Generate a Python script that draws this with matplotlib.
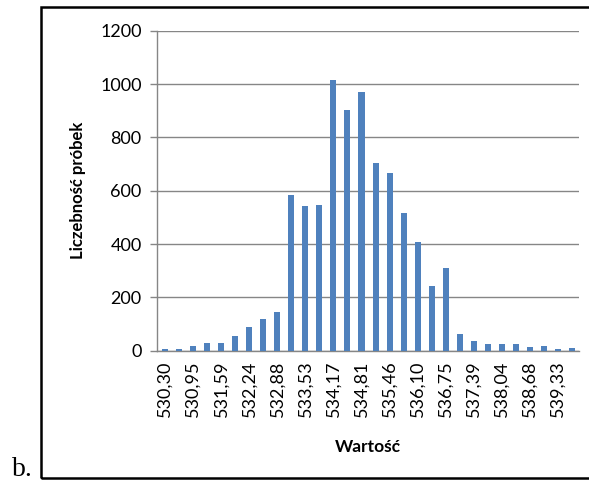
import matplotlib.pyplot as plt
from matplotlib.patches import Rectangle

# liczebnosc probek w kolejnych przedzialach
counts = [8, 5, 16, 30, 30, 56, 89, 120, 146, 584,
          541, 547, 1014, 904, 970, 704, 665, 516, 406, 244,
          311, 62, 36, 25, 25, 25, 14, 16, 8, 10]
tick_labels = ["530,30", "530,95", "531,59", "532,24", "532,88", "533,53",
               "534,17", "534,81", "535,46", "536,10", "536,75", "537,39",
               "538,04", "538,68", "539,33"]
y_ticks = [0, 200, 400, 600, 800, 1000, 1200]

plt.rcParams['font.family'] = ['Lato', 'DejaVu Sans']

fig = plt.figure(figsize=(5.89, 4.82), dpi=100)
ax = fig.add_axes([0.2666, 0.2724, 0.7165, 0.6639])

x = list(range(len(counts)))
ax.bar(x, counts, width=0.43, color='#4F81BD', zorder=3)

ax.set_xlim(-0.57, len(counts) - 0.5)
ax.set_ylim(0, 1200)
ax.set_yticks(y_ticks)
ax.set_yticklabels([str(v) for v in y_ticks], fontsize=13)
ax.set_xticks(x[::2])
ax.set_xticklabels(tick_labels, rotation=90, fontsize=13)
ax.tick_params(axis='x', length=0, pad=7)
ax.tick_params(axis='y', length=5, color='#868686', width=1, pad=6)
ax.grid(axis='y', color='#868686', linewidth=1, zorder=0)

for s in ['top', 'right']:
    ax.spines[s].set_visible(False)
for s in ['left', 'bottom']:
    ax.spines[s].set_color('#868686')
    ax.spines[s].set_linewidth(1)

ax.set_ylabel('Liczebność próbek', fontsize=12, fontweight='bold')
ax.set_xlabel('Wartość', fontsize=12.5, fontweight='bold')
ax.yaxis.set_label_coords(-0.187, 0.5)
ax.xaxis.set_label_coords(0.5, -0.30)
ax.xaxis.label.set_va('center')
ax.yaxis.label.set_va('center')

# ramka wokol wykresu
fig.patches.append(Rectangle((41 / 589, 1 - 478 / 482), 1.0, 471 / 482,
                             transform=fig.transFigure, fill=False,
                             edgecolor='black', linewidth=1.8))
fig.text(12 / 589, 1 - 476 / 482, 'b.', family='Liberation Serif',
         fontsize=20, va='baseline', ha='left')

fig.savefig('out.png', dpi=100)
